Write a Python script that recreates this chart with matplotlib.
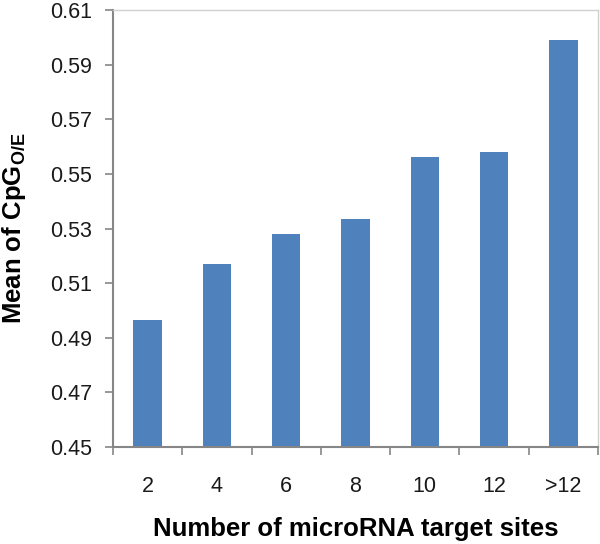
import matplotlib
matplotlib.use('Agg')
import matplotlib.pyplot as plt
import numpy as np

plt.rcParams['font.family'] = ['Liberation Sans', 'DejaVu Sans']

# data
categories = ['2', '4', '6', '8', '10', '12', '>12']
means = [0.4965, 0.517, 0.528, 0.5335, 0.556, 0.558, 0.599]
yticks = [0.45, 0.47, 0.49, 0.51, 0.53, 0.55, 0.57, 0.59, 0.61]

bar_color = '#4f81bd'
axis_color = '#868686'

fig = plt.figure(figsize=(6, 5.44), dpi=100)
ax = fig.add_axes([0.1883, 0.1783, 0.8084, 0.8033])

x = np.arange(len(categories))
ax.bar(x, means, width=0.41, color=bar_color, zorder=2)

ax.set_xlim(-0.5, len(categories) - 0.5)
ax.set_ylim(0.45, 0.61)
ax.set_yticks(yticks)
ax.set_yticklabels([f'{v:.2f}' for v in yticks])

# category labels centred, tick marks on the boundaries
ax.set_xticks(x)
ax.set_xticklabels(categories)
ax.tick_params(axis='x', which='major', length=0, pad=21)
ax.set_xticks(np.arange(-0.5, len(categories)), minor=True)
ax.tick_params(axis='x', which='minor', length=6, width=1.2, color=axis_color, direction='out')
ax.tick_params(axis='y', length=6, width=1.2, color=axis_color, direction='out', pad=9)
ax.tick_params(labelsize=15.5, labelcolor='#1a1a1a')

for side in ['left', 'bottom']:
    ax.spines[side].set_color(axis_color)
    ax.spines[side].set_linewidth(1.5)
for side in ['top', 'right']:
    ax.spines[side].set_color('#d0d0d0')
    ax.spines[side].set_linewidth(1.0)

ax.set_xlabel('Number of microRNA target sites', fontsize=18.5, fontweight='bold', labelpad=14)
ax.set_ylabel(r'Mean of CpG$_{\mathregular{O/E}}$', fontsize=18.5, fontweight='bold', labelpad=16)

fig.savefig('out.png', dpi=100)
